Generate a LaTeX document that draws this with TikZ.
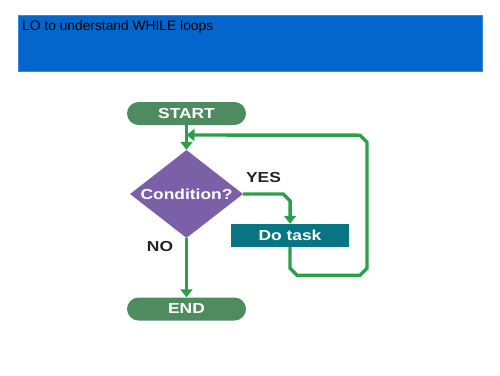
\documentclass[tikz,border=0pt]{standalone}
\usepackage{fontspec}
\setmainfont{Liberation Sans}
\newfontfamily\flowfont[FakeStretch=1.2]{Liberation Sans}
\usetikzlibrary{shapes.geometric,arrows.meta}
\definecolor{bannerblue}{RGB}{3,102,204}
\definecolor{bannerline}{RGB}{60,135,225}
\definecolor{termgreen}{RGB}{78,140,96}
\definecolor{linegreen}{RGB}{44,160,72}
\definecolor{condpurple}{RGB}{123,96,168}
\definecolor{taskteal}{RGB}{8,117,133}
\definecolor{labelgray}{RGB}{35,35,35}
\begin{document}
\begin{tikzpicture}[x=1pt,y=-1pt,
  term/.style={fill=termgreen, text=white, rounded corners=11.5pt, minimum width=119pt, minimum height=23pt, font=\flowfont\fontsize{14.5}{16}\selectfont\bfseries},
  cond/.style={diamond, aspect=1.3, fill=condpurple, text=white, inner sep=0pt, minimum width=113pt, minimum height=88pt, font=\flowfont\fontsize{14.5}{16}\selectfont\bfseries},
  task/.style={fill=taskteal, text=white, minimum width=118pt, minimum height=23pt, font=\flowfont\fontsize{14.5}{16}\selectfont\bfseries},
  answer/.style={text=labelgray, font=\flowfont\fontsize{14.5}{16}\selectfont\bfseries},
  flow/.style={draw=linegreen, line width=3.4pt, -{Triangle[width=12pt,length=8pt]}}]
\useasboundingbox (0,0) rectangle (500,375);

\filldraw[fill=bannerblue, draw=bannerline, line width=0.6pt] (18,15) rectangle (482,71);
\node[anchor=north west, inner sep=0pt, font=\fontsize{13.8}{16}\selectfont] (title) at (22,20) {LO to understand WHILE loops};

\node[term] (start) at (186.5,113.5) {START};
\node[cond] (check) at (186.5,194) {Condition?};
\node[task] (dotask) at (290,235.5) {Do task};
\node[term] (stop) at (186.5,309) {END};

\node[answer] (yes) at (263.5,178) {YES};
\node[answer] (no) at (160,246.5) {NO};

\coordinate (merge) at (186.5,135);

\draw[flow] (start.south) -- (check.north);
\draw[flow] (check.east) -- ++(40,0) -- ++(7,7) -- (dotask.north);
\draw[flow] (check.south) -- (stop.north);
\draw[flow] (dotask.south) -- ++(0,21) -- ++(7,7) -- ++(63,0) -- ++(7,-7) -- ++(0,-126) -- ++(-7,-7) -- (merge);
\end{tikzpicture}
\end{document}
